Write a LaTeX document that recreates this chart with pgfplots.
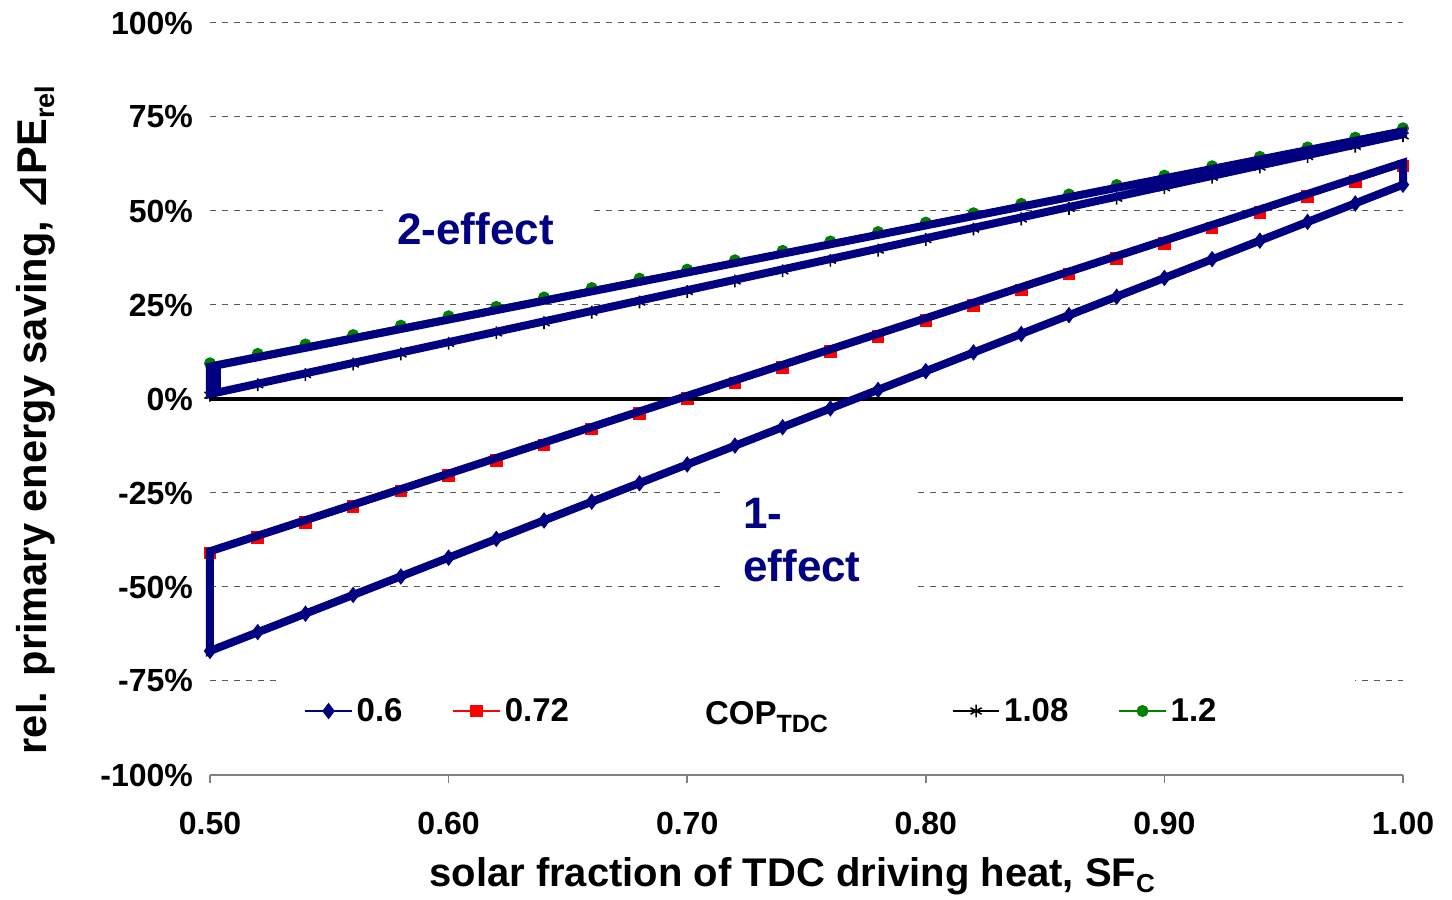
\documentclass[border=0pt]{standalone}
\usepackage{fontspec}
\setmainfont{Liberation Sans}
\newfontfamily\dejavu{DejaVu Sans}
\usepackage{pgfplots}
\usepackage{pgfplotstable}
\pgfplotsset{compat=1.18}
\definecolor{navy}{RGB}{0,0,128}
\definecolor{dgreen}{RGB}{0,128,0}

\pgfplotstableread{
x     s06    s072   s108   s12
0.50  -67.0  -41.0  1.0    9.5
0.52  -62.0  -36.9  3.8    12.0
0.54  -57.1  -32.8  6.5    14.5
0.56  -52.1  -28.6  9.3    17.0
0.58  -47.2  -24.5  12.0   19.5
0.60  -42.2  -20.4  14.8   22.0
0.62  -37.2  -16.3  17.6   24.5
0.64  -32.3  -12.2  20.3   27.0
0.66  -27.3  -8.0   23.1   29.5
0.68  -22.4  -3.9   25.8   32.0
0.70  -17.4  0.2    28.6   34.4
0.72  -12.4  4.3    31.4   36.9
0.74  -7.5   8.4    34.1   39.4
0.76  -2.5   12.6   36.9   41.9
0.78  2.4    16.7   39.6   44.4
0.80  7.4    20.8   42.4   46.9
0.82  12.4   24.9   45.2   49.4
0.84  17.3   29.0   47.9   51.9
0.86  22.3   33.2   50.7   54.4
0.88  27.2   37.3   53.4   56.9
0.90  32.2   41.4   56.2   59.4
0.92  37.2   45.5   59.0   61.9
0.94  42.1   49.6   61.7   64.4
0.96  47.1   53.8   64.5   66.9
0.98  52.0   57.9   67.2   69.5
1.00  57.0   62.0   70.0   72.0
}\datatable

\begin{document}
\begin{tikzpicture}
\useasboundingbox (0,0) rectangle (726pt,450pt);
\begin{axis}[
  at={(105pt,62.5pt)}, anchor=south west,
  width=596.5pt, height=376pt, scale only axis,
  xmin=0.5, xmax=1.0, ymin=-100, ymax=100,
  clip=false, clip marker paths=true,
  axis x line*=bottom, axis y line*=left,
  x axis line style={gray, line width=1pt, -},
  y axis line style={draw=none},
  xtick={0.5,0.6,0.7,0.8,0.9,1.0},
  xticklabels={0.50,0.60,0.70,0.80,0.90,1.00},
  ytick={-100,-75,-50,-25,0,25,50,75,100},
  yticklabels={-100\%,-75\%,-50\%,-25\%,0\%,25\%,50\%,75\%,100\%},
  tick align=outside,
  major tick length=4pt,
  xtick style={gray, line width=0.8pt},
  ytick style={draw=none},
  ymajorgrids,
  grid style={black!65, line width=0.5pt, dash pattern=on 3pt off 3pt},
  ticklabel style={font=\fontsize{16}{19}\selectfont\bfseries},
  xticklabel style={yshift=-11pt},
  yticklabel style={xshift=-1pt},
  xlabel={solar fraction of TDC driving heat, SF\raisebox{-3pt}{\fontsize{13}{14}\selectfont C}},
  xlabel style={at={(axis description cs:0.488,-0.148)}, anchor=base, font=\fontsize{20}{24}\selectfont\bfseries},
  ylabel={rel. primary energy saving, {\dejavu\bfseries ⊿}PE\raisebox{-4pt}{\fontsize{13.5}{14}\selectfont rel}},
  ylabel style={at={(axis description cs:-0.146,0.472)}, anchor=center, font=\fontsize{20.8}{24}\selectfont\bfseries},
  legend columns=5,
  legend style={at={(0.0587,0.0851)}, anchor=west, draw=none, fill=white,
    inner xsep=12pt, inner ysep=7pt,
    font=\fontsize{16.5}{19}\selectfont\bfseries,
    /tikz/every even column/.append style={column sep=23pt}},
  legend cell align=left,
  legend image code/.code={\draw[mark repeat=2,mark phase=2] plot coordinates {(0cm,0cm) (0.41cm,0cm) (0.82cm,0cm)};},
]
\addplot[navy, line width=0.8pt, mark=diamond*, mark size=3.5pt, mark options={solid}] table[x=x,y=s06] {\datatable};
\addlegendentry{0.6}
\addplot[red, line width=0.8pt, mark=square*, mark size=2.75pt, mark options={solid}] table[x=x,y=s072] {\datatable};
\addlegendentry{0.72}
\addlegendimage{empty legend}
\addlegendentry{\hspace*{41pt}\raisebox{-3pt}{COP\raisebox{-4pt}{\fontsize{12.5}{13}\selectfont TDC}}\hspace*{37pt}}
\addplot[black, line width=0.8pt, mark=asterisk, mark size=3.2pt, mark options={solid}] table[x=x,y=s108] {\datatable};
\addlegendentry{1.08}
\addplot[dgreen, line width=0.8pt, mark=*, mark size=2.6pt, mark options={solid}] table[x=x,y=s12] {\datatable};
\addlegendentry{1.2\hspace*{55pt}}

\addplot[black, line width=1.6pt, forget plot] coordinates {(0.5,0) (1.0,0)};
\addplot[navy, line width=4pt, forget plot] coordinates {(0.5,-67) (1.0,57) (1.0,62.8) (0.5,-40.5)} -- cycle;
\addplot[navy, line width=4pt, forget plot] coordinates {(0.5,1.3) (1.0,70.4) (1.0,71.2) (0.5,8.6)} -- cycle;
\addplot[navy, line width=4pt, forget plot] coordinates {(0.503,2.0) (0.503,9.0)};

\node[fill=white, text=navy, font=\fontsize{22}{26}\selectfont\bfseries, anchor=west, inner xsep=7pt, inner ysep=4pt] at (axis cs:0.5725,45.2) {2-effect\hspace*{12pt}};
\node[fill=white, text=navy, font=\fontsize{22}{26.5}\selectfont\bfseries, anchor=west, inner xsep=9pt, inner ysep=8pt, text width=78pt, align=left] at (axis cs:0.7158,-37.5) {1-\\effect};
\end{axis}
\end{tikzpicture}
\end{document}
